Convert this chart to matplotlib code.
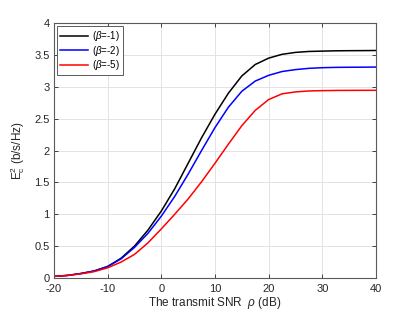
import numpy as np
import matplotlib.pyplot as plt

plt.rcParams['font.family'] = ['Liberation Sans', 'DejaVu Sans']
plt.rcParams['mathtext.fontset'] = 'custom'
plt.rcParams['mathtext.rm'] = 'Liberation Sans'
plt.rcParams['mathtext.it'] = 'Liberation Sans:italic'
plt.rcParams['axes.unicode_minus'] = False

# SNR grid (dB)
snr_db = [-20, -17.5, -15, -12.5, -10, -7.5, -5, -2.5, 0, 2.5, 5, 7.5, 10,
          12.5, 15, 17.5, 20, 22.5, 25, 27.5, 30, 32.5, 35, 37.5, 40]

# capacity curves
cap_b1 = [0.025, 0.04, 0.07, 0.11, 0.18, 0.31, 0.50, 0.75, 1.05, 1.40, 1.80,
          2.20, 2.57, 2.90, 3.17, 3.35, 3.45, 3.51, 3.54, 3.555, 3.56, 3.565,
          3.567, 3.568, 3.57]
cap_b2 = [0.025, 0.04, 0.07, 0.11, 0.18, 0.30, 0.48, 0.70, 0.97, 1.28, 1.63,
          2.00, 2.36, 2.68, 2.93, 3.09, 3.18, 3.24, 3.27, 3.29, 3.30, 3.305,
          3.307, 3.308, 3.31]
cap_b5 = [0.025, 0.04, 0.065, 0.10, 0.16, 0.25, 0.37, 0.55, 0.77, 1.00, 1.24,
          1.51, 1.80, 2.10, 2.39, 2.63, 2.80, 2.89, 2.92, 2.935, 2.94, 2.943,
          2.944, 2.945, 2.945]

labels = [r'($\beta$=-1)', r'($\beta$=-2)', r'($\beta$=-5)']
colors = ['black', 'blue', 'red']

fig = plt.figure(figsize=(4.15, 3.12), dpi=100)
ax = fig.add_axes([0.130, 0.109, 0.776, 0.817])

for y, lab, c in zip([cap_b1, cap_b2, cap_b5], labels, colors):
    ax.plot(snr_db, y, color=c, lw=1.1, label=lab, solid_joinstyle='round')

ax.set_xlim(-20, 40)
ax.set_ylim(0, 4)
ax.set_xticks(np.arange(-20, 41, 10))
ax.set_yticks(np.arange(0, 4.01, 0.5))
ax.set_yticklabels(['0', '0.5', '1', '1.5', '2', '2.5', '3', '3.5', '4'])

ax.grid(True, color='#e3e3e3', lw=0.7)
ax.set_axisbelow(True)
ax.tick_params(direction='in', top=True, right=True, length=3, width=0.6,
               labelsize=8, colors='#262626', pad=3)
ax.tick_params(axis='x', pad=4)
for s in ax.spines.values():
    s.set_color('#5a5a5a')
    s.set_linewidth(0.8)

ax.set_xlabel(r'The transmit SNR  $\rho$ (dB)', fontsize=8.5, color='#262626', labelpad=1)
ax.set_ylabel(r'$\mathrm{E}_\mathrm{c}^2$ (b/s/Hz)', fontsize=8.5, color='#262626', labelpad=5)

leg = ax.legend(loc='upper left', fontsize=7, handlelength=2.9, borderpad=0.3,
                labelspacing=0.05, handletextpad=0.4, fancybox=False,
                borderaxespad=0.35, framealpha=1)
leg.get_frame().set_edgecolor('#5a5a5a')
leg.get_frame().set_linewidth(0.7)

fig.savefig('out.png', dpi=100)
